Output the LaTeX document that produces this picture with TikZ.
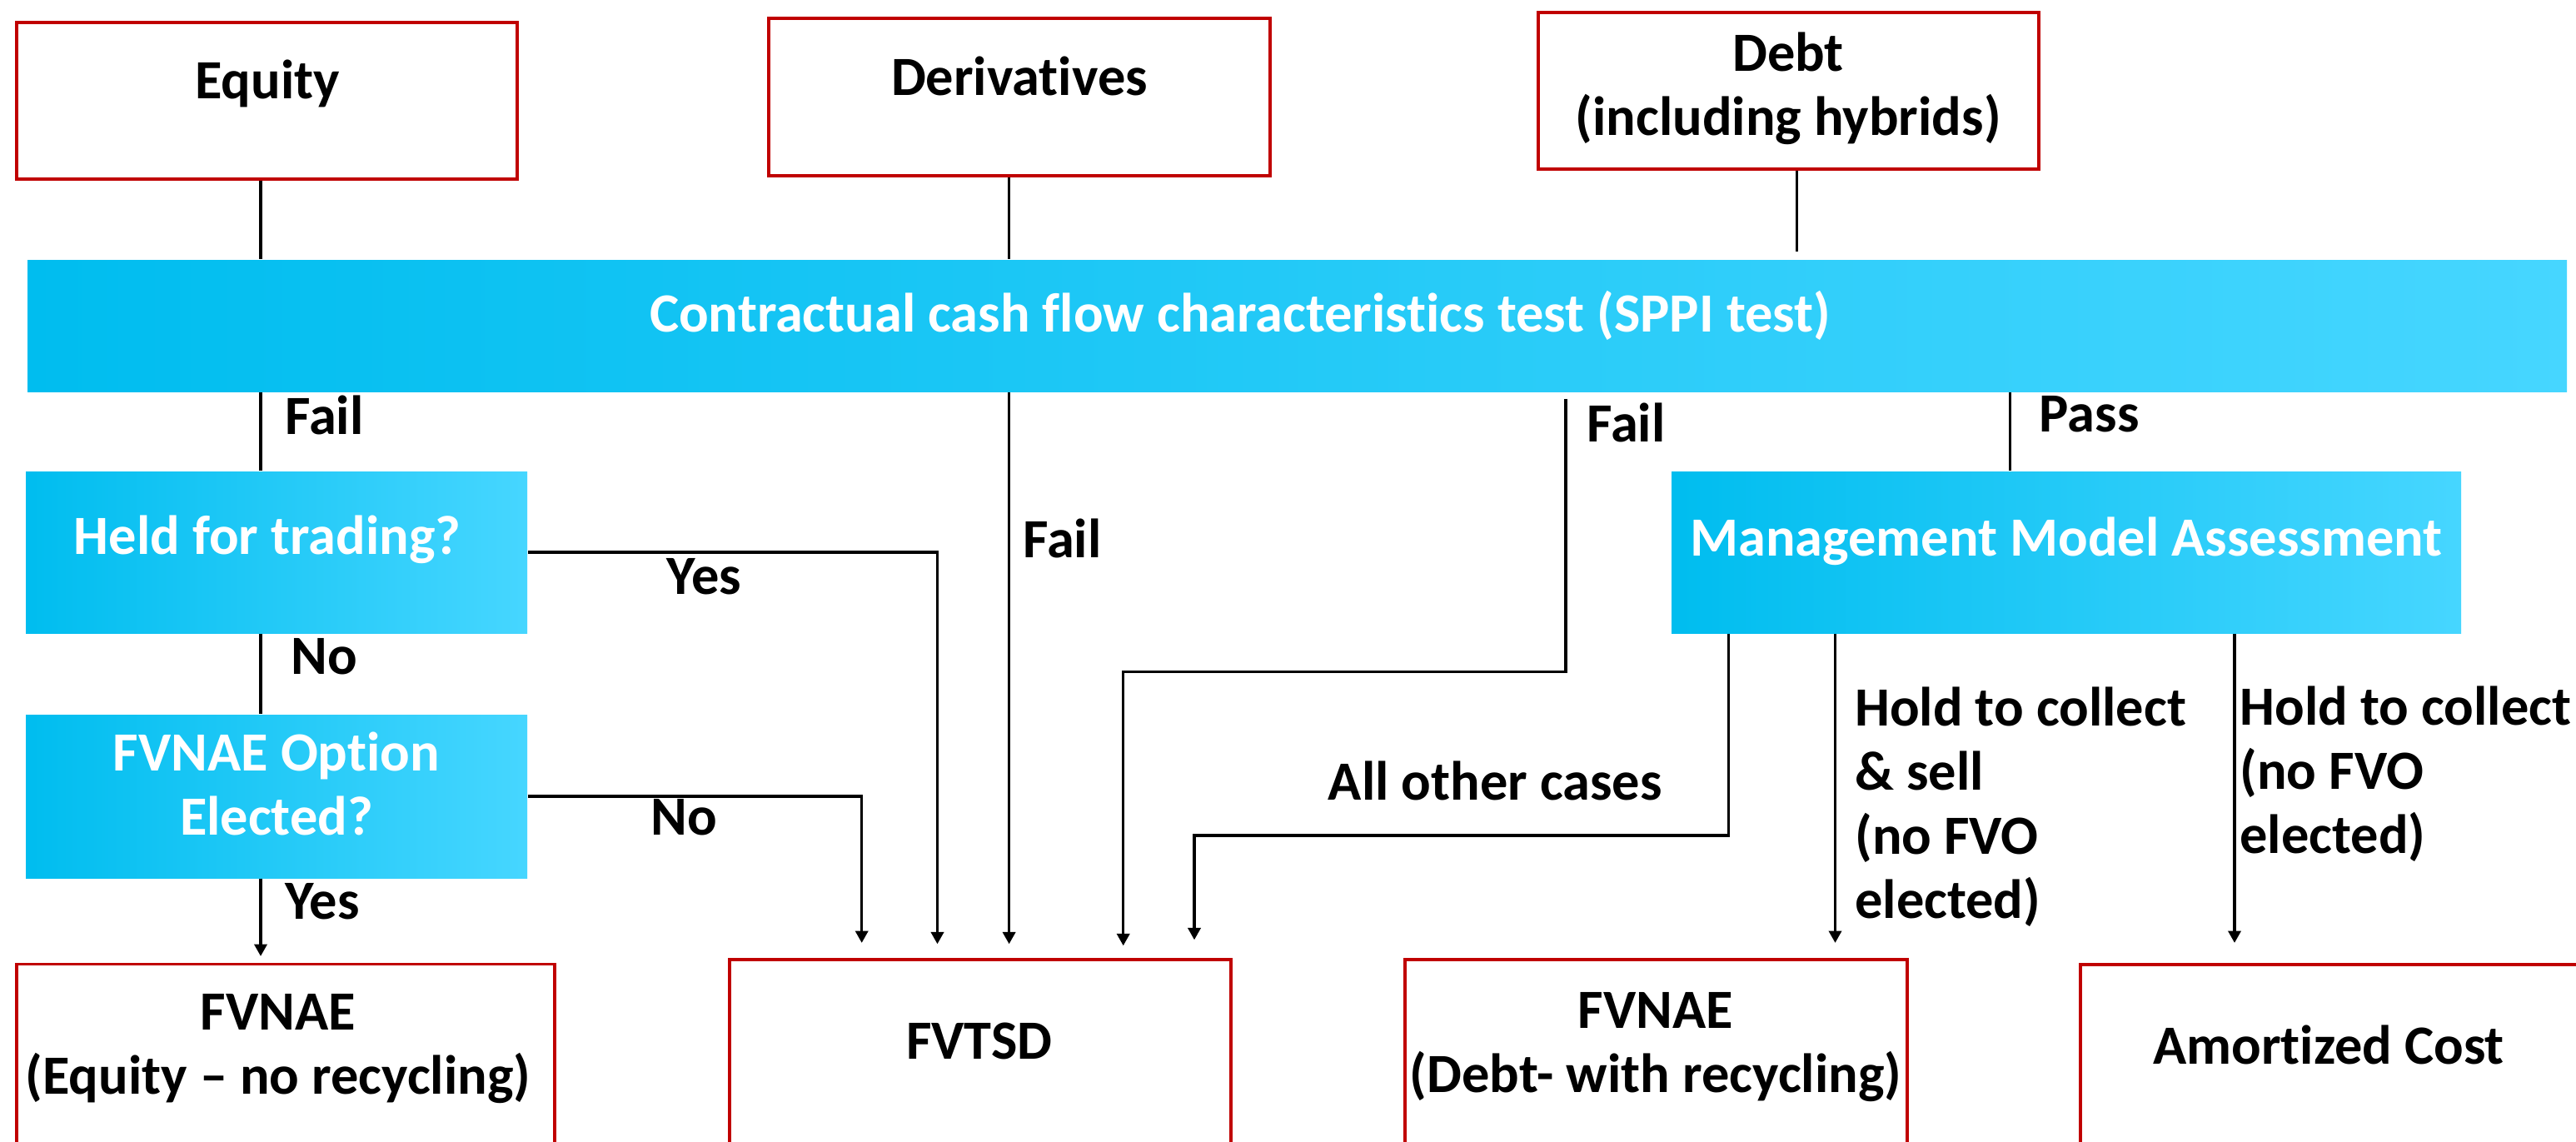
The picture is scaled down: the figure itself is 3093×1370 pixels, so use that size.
\documentclass[tikz,border=0pt]{standalone}
\usepackage{fontspec}
\setmainfont{Carlito}[Ligatures=NoCommon]
\usetikzlibrary{arrows.meta,calc}
\definecolor{cyanL}{RGB}{0,189,239}
\definecolor{cyanR}{RGB}{70,214,255}
\definecolor{boxred}{RGB}{192,0,0}
\begin{document}
\begin{tikzpicture}[x=0.25pt,y=-0.25pt,
  every node/.style={font=\fontsize{16.6}{19.25}\selectfont\bfseries},
  redbox/.style={draw=boxred,line width=0.85pt,fill=white,inner sep=0pt},
  cyanbox/.style={left color=cyanL,right color=cyanR,draw=none,inner sep=0pt},
  txt/.style={anchor=base,inner sep=0pt,align=center},
  wtxt/.style={anchor=base,inner sep=0pt,align=center,text=white},
  lbl/.style={anchor=base west,inner sep=0pt,align=left},
  conn/.style={line width=0.8pt,black},
  arr/.style={conn,-{Triangle[length=3.6pt,width=3.8pt]}}]
\useasboundingbox (0,0) rectangle (3093,1370);
\clip (0,0) rectangle (3093,1370);
\fill[white] (0,0) rectangle (3093,1370);

% top boxes
\node[redbox,minimum width=150.25pt,minimum height=47pt] (equity) at (320.5,121) {};
\node[redbox,minimum width=150.5pt,minimum height=47.25pt] (deriv) at (1224,116.5) {};
\node[redbox,minimum width=150.25pt,minimum height=47pt] (debt) at (2147.5,109) {};
\node[txt] (equityT) at (321,118) {Equity};
\node[txt] (derivT) at (1224,114) {Derivatives};
\node[txt] (debtT) at (2147,162.7) {Debt\\(including hybrids)};

% SPPI bar
\node[cyanbox,minimum width=762.25pt,minimum height=39.5pt] (sppi) at (1557.5,391) {};
\node[wtxt] (sppiT) at (1489,398) {Contractual cash flow characteristics test (SPPI test)};

% decision boxes
\node[cyanbox,minimum width=150.5pt,minimum height=48.5pt] (held) at (332,663) {};
\node[wtxt] (heldT) at (321,665) {Held for trading?};
\node[cyanbox,minimum width=150.5pt,minimum height=49pt] (opt) at (332,956) {};
\node[wtxt] (optT) at (332,1002) {FVNAE Option\\Elected?};
\node[cyanbox,minimum width=237pt,minimum height=48.5pt] (mgmt) at (2481,663) {};
\node[wtxt] (mgmtT) at (2481,667.6) {Management Model Assessment};

% bottom boxes
\node[redbox,minimum width=161.5pt,minimum height=54.4pt] (fvnaeEq) at (343,1266) {};
\node[redbox,minimum width=150.5pt,minimum height=55.75pt] (fvtsd) at (1177,1263.5) {};
\node[redbox,minimum width=150.75pt,minimum height=55.75pt] (fvnaeDebt) at (1988.5,1263.5) {};
\node[redbox,minimum width=153pt,minimum height=54.25pt] (amort) at (2804,1266.5) {};
\node[txt] (fvnaeEqT) at (334,1313) {FVNAE\\(Equity – no recycling)};
\node[txt] (fvtsdT) at (1176,1271) {FVTSD};
\node[txt] (fvnaeDebtT) at (1988,1311) {FVNAE\\(Debt- with recycling)};
\node[txt] (amortT) at (2796,1277) {Amortized Cost};

% columns and bends
\coordinate (cA) at (313,0);
\coordinate (cD) at (1211.6,0);
\coordinate (cE) at (2157.5,0);
\coordinate (cYes) at (1125.5,0);
\coordinate (cNo) at (1034.7,0);
\coordinate (cF) at (1880,0);
\coordinate (cG) at (1348.7,0);
\coordinate (cP) at (2413.6,0);
\coordinate (cO) at (2075.8,0);
\coordinate (cH) at (1434,0);
\coordinate (cS) at (2203.5,0);
\coordinate (cC) at (2683,0);
\coordinate (b1) at (0,806.8);
\coordinate (b2) at (0,1003);

% connectors
\draw[conn] (equity.south -| cA) -- (sppi.north -| cA);
\draw[conn] (deriv.south -| cD) -- (sppi.north -| cD);
\draw[conn,shorten >=2.25pt] (debt.south -| cE) -- (sppi.north -| cE);
\draw[conn] (sppi.south -| cA) -- (held.north -| cA);
\draw[conn] (held.south -| cA) -- (opt.north -| cA);
\draw[arr,shorten >=1.9pt] (opt.south -| cA) -- (fvnaeEq.north -| cA);
\draw[arr,shorten >=4.25pt] (held.east) -| (cYes |- fvtsd.north);
\draw[arr,shorten >=4.6pt] (opt.east) -| (cNo |- fvtsd.north);
\draw[arr,shorten >=4.25pt] (sppi.south -| cD) -- (fvtsd.north -| cD);
\draw[arr,shorten <=2pt,shorten >=3.75pt] (sppi.south -| cF) -- (cF |- b1) -| (cG |- fvtsd.north);
\draw[conn] (sppi.south -| cP) -- (mgmt.north -| cP);
\draw[arr,shorten >=5.5pt] (mgmt.south -| cO) -- (cO |- b2) -| (cH |- fvtsd.north);
\draw[arr,shorten >=4.6pt] (mgmt.south -| cS) -- (fvnaeDebt.north -| cS);
\draw[arr,shorten >=6.1pt] (mgmt.south -| cC) -- (amort.north -| cC);

% labels
\node[lbl] (failA) at (341.7,521) {Fail};
\node[lbl] (noA) at (348.6,809.6) {No};
\node[lbl] (yesA) at (341.6,1103.7) {Yes};
\node[lbl] (yesB) at (800,713.6) {Yes};
\node[lbl] (noB) at (781,1002) {No};
\node[lbl] (failB) at (1227.5,669) {Fail};
\node[lbl] (failC) at (1904.6,530) {Fail};
\node[lbl] (passA) at (2448,518) {Pass};
\node[lbl] (otherL) at (1594,960.5) {All other cases};
\node[lbl] (htcsL) at (2226.5,1102) {Hold to collect\\\& sell\\(no FVO\\elected)};
\node[lbl] (htcL) at (2688.7,1024) {Hold to collect\\(no FVO\\elected)};
\end{tikzpicture}
\end{document}
